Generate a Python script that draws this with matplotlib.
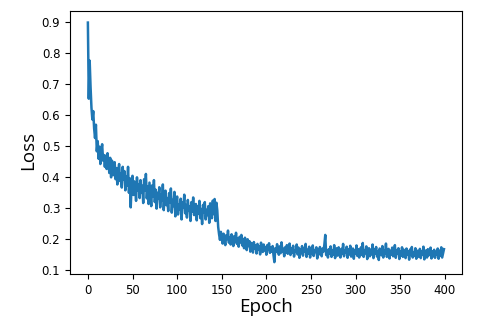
import numpy as np
import matplotlib
matplotlib.use("Agg")
import matplotlib.pyplot as plt

# loss per epoch (400 epochs)
loss_0_99 = [
    0.898, 0.652, 0.775, 0.690, 0.623, 0.585, 0.612, 0.556, 0.525, 0.568,
    0.482, 0.515, 0.458, 0.497, 0.441, 0.486, 0.505, 0.452, 0.470, 0.432,
    0.468, 0.425, 0.476, 0.447, 0.412, 0.461, 0.398, 0.452, 0.430, 0.405,
    0.447, 0.392, 0.428, 0.375, 0.419, 0.441, 0.386, 0.410, 0.365, 0.432,
    0.392, 0.418, 0.356, 0.401, 0.372, 0.432, 0.348, 0.395, 0.301, 0.377,
    0.403, 0.341, 0.385, 0.362, 0.322, 0.398, 0.355, 0.376, 0.331, 0.389,
    0.348, 0.371, 0.315, 0.392, 0.356, 0.409, 0.330, 0.368, 0.312, 0.381,
    0.342, 0.305, 0.372, 0.336, 0.389, 0.318, 0.358, 0.297, 0.348, 0.329,
    0.366, 0.301, 0.343, 0.322, 0.375, 0.292, 0.338, 0.355, 0.308, 0.331,
    0.289, 0.347, 0.316, 0.362, 0.284, 0.325, 0.305, 0.351, 0.272, 0.318,
]
loss_100_199 = [
    0.336, 0.278, 0.311, 0.295, 0.329, 0.262, 0.317, 0.301, 0.342, 0.282,
    0.309, 0.268, 0.325, 0.291, 0.304, 0.257, 0.318, 0.287, 0.333, 0.276,
    0.298, 0.312, 0.259, 0.305, 0.281, 0.322, 0.266, 0.296, 0.247, 0.309,
    0.285, 0.318, 0.262, 0.293, 0.276, 0.305, 0.251, 0.314, 0.288, 0.266,
    0.323, 0.279, 0.328, 0.257, 0.316, 0.291, 0.238, 0.214, 0.196, 0.222,
    0.205, 0.184, 0.216, 0.193, 0.179, 0.211, 0.198, 0.226, 0.187, 0.203,
    0.181, 0.214, 0.195, 0.176, 0.208, 0.189, 0.219, 0.183, 0.201, 0.174,
    0.206, 0.188, 0.212, 0.178, 0.197, 0.169, 0.203, 0.185, 0.163, 0.198,
    0.176, 0.192, 0.158, 0.186, 0.171, 0.155, 0.189, 0.167, 0.178, 0.152,
    0.183, 0.164, 0.175, 0.149, 0.187, 0.168, 0.157, 0.181, 0.162, 0.173,
]
loss_200_299 = [
    0.148, 0.179, 0.163, 0.185, 0.154, 0.171, 0.158, 0.176, 0.146, 0.124,
    0.169, 0.157, 0.182, 0.161, 0.148, 0.175, 0.153, 0.188, 0.159, 0.167,
    0.143, 0.172, 0.156, 0.179, 0.151, 0.165, 0.184, 0.147, 0.169, 0.155,
    0.177, 0.142, 0.163, 0.158, 0.181, 0.149, 0.171, 0.138, 0.166, 0.153,
    0.176, 0.145, 0.168, 0.159, 0.183, 0.141, 0.164, 0.152, 0.174, 0.139,
    0.167, 0.151, 0.178, 0.144, 0.162, 0.157, 0.172, 0.136, 0.165, 0.149,
    0.173, 0.155, 0.143, 0.168, 0.158, 0.181, 0.212, 0.147, 0.163, 0.139,
    0.166, 0.152, 0.175, 0.141, 0.161, 0.148, 0.179, 0.137, 0.158, 0.169,
    0.145, 0.172, 0.154, 0.139, 0.167, 0.151, 0.183, 0.143, 0.162, 0.156,
    0.174, 0.138, 0.165, 0.149, 0.177, 0.142, 0.159, 0.168, 0.135, 0.163,
]
loss_300_399 = [
    0.151, 0.178, 0.144, 0.166, 0.139, 0.157, 0.172, 0.147, 0.186, 0.141,
    0.162, 0.153, 0.175, 0.134, 0.158, 0.169, 0.143, 0.164, 0.149, 0.181,
    0.137, 0.166, 0.151, 0.173, 0.142, 0.159, 0.131, 0.168, 0.155, 0.146,
    0.176, 0.139, 0.162, 0.152, 0.184, 0.141, 0.158, 0.167, 0.136, 0.161,
    0.148, 0.171, 0.143, 0.156, 0.179, 0.138, 0.163, 0.151, 0.169, 0.134,
    0.158, 0.145, 0.172, 0.141, 0.164, 0.153, 0.137, 0.168, 0.149, 0.159,
    0.132, 0.165, 0.147, 0.173, 0.139, 0.156, 0.144, 0.169, 0.135, 0.161,
    0.152, 0.141, 0.167, 0.137, 0.158, 0.148, 0.174, 0.133, 0.155, 0.162,
    0.139, 0.166, 0.146, 0.153, 0.171, 0.136, 0.159, 0.143, 0.164, 0.138,
    0.157, 0.149, 0.168, 0.135, 0.161, 0.144, 0.172, 0.139, 0.152, 0.166,
]

loss = np.array(loss_0_99 + loss_100_199 + loss_200_299 + loss_300_399)
epochs = np.arange(len(loss))

fig = plt.figure(figsize=(4.8, 3.21), dpi=100)
ax = fig.add_axes([0.146, 0.146, 0.816, 0.821])

ax.plot(epochs, loss, color="#1f77b4", linewidth=1.8)

ax.set_xticks([0, 50, 100, 150, 200, 250, 300, 350, 400])
ax.set_yticks([0.1, 0.2, 0.3, 0.4, 0.5, 0.6, 0.7, 0.8, 0.9])
ax.tick_params(labelsize=8.5)

ax.set_xlabel("Epoch", fontsize=13.5, family=["Open Sans", "DejaVu Sans"], labelpad=1)
ax.set_ylabel("Loss", fontsize=13.5, family=["Open Sans", "DejaVu Sans"])
ax.yaxis.set_label_coords(-0.085, 0.47)

plt.savefig("out.png", dpi=100)
